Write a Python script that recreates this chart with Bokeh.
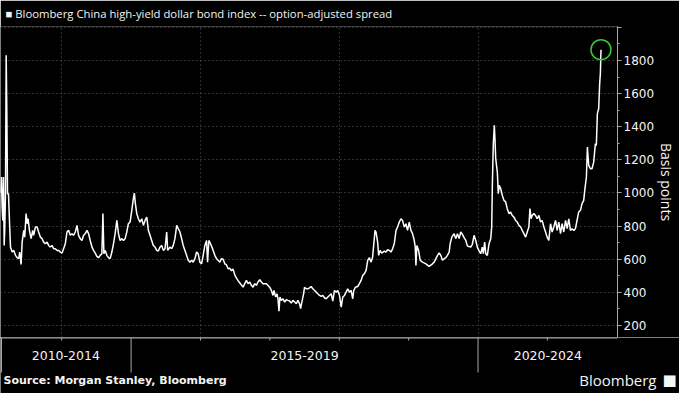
from bokeh.plotting import figure
from bokeh.models import Range1d, FixedTicker, ColumnDataSource
from bokeh.layouts import column
from bokeh.embed import file_html
from bokeh.resources import INLINE
from bokeh.core.properties import value

# ---------------- data ----------------
years = [
    2013.118, 2013.132, 2013.142, 2013.151, 2013.161, 2013.171, 2013.180, 2013.190, 2013.200, 2013.209,
    2013.219, 2013.233, 2013.247, 2013.262, 2013.286, 2013.309, 2013.334, 2013.358, 2013.381, 2013.395,
    2013.415, 2013.430, 2013.453, 2013.467, 2013.487, 2013.502, 2013.516, 2013.535, 2013.559, 2013.582,
    2013.596, 2013.621, 2013.645, 2013.668, 2013.693, 2013.717, 2013.740, 2013.765, 2013.789, 2013.812,
    2013.836, 2013.861, 2013.884, 2013.908, 2013.933, 2013.956, 2013.980, 2014.005, 2014.027, 2014.052,
    2014.076, 2014.099, 2014.124, 2014.148, 2014.171, 2014.196, 2014.220, 2014.243, 2014.267, 2014.292,
    2014.315, 2014.339, 2014.364, 2014.387, 2014.411, 2014.436, 2014.459, 2014.483, 2014.507, 2014.530,
    2014.555, 2014.579, 2014.594, 2014.608, 2014.627, 2014.651, 2014.674, 2014.698, 2014.723, 2014.746,
    2014.770, 2014.795, 2014.818, 2014.842, 2014.867, 2014.890, 2014.914, 2014.938, 2014.961, 2014.986,
    2015.010, 2015.033, 2015.047, 2015.062, 2015.082, 2015.105, 2015.129, 2015.154, 2015.177, 2015.201,
    2015.226, 2015.249, 2015.273, 2015.297, 2015.320, 2015.345, 2015.369, 2015.392, 2015.417, 2015.441,
    2015.464, 2015.489, 2015.513, 2015.527, 2015.560, 2015.585, 2015.608, 2015.632, 2015.657, 2015.680,
    2015.704, 2015.728, 2015.751, 2015.776, 2015.800, 2015.823, 2015.848, 2015.872, 2015.895, 2015.920,
    2015.944, 2015.967, 2015.991, 2016.016, 2016.039, 2016.063, 2016.088, 2016.102, 2016.121, 2016.145,
    2016.183, 2016.207, 2016.231, 2016.254, 2016.279, 2016.303, 2016.326, 2016.351, 2016.375, 2016.398,
    2016.422, 2016.447, 2016.470, 2016.494, 2016.519, 2016.542, 2016.576, 2016.614, 2016.638, 2016.662,
    2016.686, 2016.710, 2016.734, 2016.757, 2016.782, 2016.806, 2016.829, 2016.854, 2016.878, 2016.901,
    2016.950, 2016.997, 2017.022, 2017.045, 2017.059, 2017.084, 2017.102, 2017.117, 2017.131, 2017.145,
    2017.165, 2017.189, 2017.213, 2017.237, 2017.260, 2017.285, 2017.309, 2017.332, 2017.357, 2017.381,
    2017.404, 2017.428, 2017.443, 2017.461, 2017.486, 2017.500, 2017.524, 2017.547, 2017.572, 2017.596,
    2017.619, 2017.644, 2017.668, 2017.691, 2017.716, 2017.740, 2017.763, 2017.787, 2017.812, 2017.835,
    2017.859, 2017.884, 2017.907, 2017.931, 2017.956, 2017.979, 2018.004, 2018.028, 2018.051, 2018.075,
    2018.099, 2018.122, 2018.147, 2018.171, 2018.194, 2018.209, 2018.233, 2018.266, 2018.290, 2018.315,
    2018.338, 2018.362, 2018.387, 2018.410, 2018.434, 2018.459, 2018.481, 2018.496, 2018.516, 2018.530,
    2018.553, 2018.568, 2018.588, 2018.611, 2018.650, 2018.674, 2018.697, 2018.721, 2018.746, 2018.769,
    2018.793, 2018.818, 2018.841, 2018.865, 2018.889, 2018.912, 2018.937, 2018.961, 2018.984, 2019.009,
    2019.033, 2019.056, 2019.081, 2019.095, 2019.105, 2019.119, 2019.143, 2019.167, 2019.200, 2019.249,
    2019.296, 2019.344, 2019.368, 2019.416, 2019.440, 2019.464, 2019.487, 2019.512, 2019.536, 2019.559,
    2019.584, 2019.598, 2019.622, 2019.655, 2019.680, 2019.703, 2019.727, 2019.751, 2019.775, 2019.799,
    2019.824, 2019.847, 2019.871, 2019.895, 2019.918, 2019.943, 2019.967, 2019.990, 2020.015, 2020.039,
    2020.062, 2020.076, 2020.096, 2020.111, 2020.134, 2020.158, 2020.183, 2020.197, 2020.206, 2020.220,
    2020.235, 2020.245, 2020.255, 2020.278, 2020.292, 2020.306, 2020.327, 2020.350, 2020.374, 2020.398,
    2020.421, 2020.446, 2020.470, 2020.493, 2020.517, 2020.542, 2020.565, 2020.589, 2020.614, 2020.637,
    2020.661, 2020.686, 2020.709, 2020.733, 2020.748, 2020.766, 2020.780, 2020.805, 2020.829, 2020.852,
    2020.877, 2020.901, 2020.924, 2020.949, 2020.973, 2020.996, 2021.020, 2021.045, 2021.068, 2021.092,
    2021.117, 2021.140, 2021.164, 2021.189, 2021.212, 2021.236, 2021.261, 2021.284, 2021.308, 2021.332,
    2021.355, 2021.380, 2021.404, 2021.427, 2021.451, 2021.476, 2021.499, 2021.523, 2021.538, 2021.562,
    2021.576, 2021.595, 2021.619, 2021.642, 2021.667, 2021.691, 2021.705, 2021.720, 2021.739, 2021.753,
    2021.763, 2021.772,
]
spread = [
    1000, 1096, 915, 834, 1096, 683, 794, 995, 1831, 1499,
    995, 995, 834, 673, 643, 653, 623, 609, 603, 643,
    568, 703, 774, 733, 875, 814, 844, 774, 724, 774,
    744, 794, 794, 764, 733, 724, 703, 693, 703, 683,
    673, 683, 663, 663, 653, 653, 643, 637, 663, 693,
    764, 774, 744, 754, 744, 764, 804, 744, 724, 713,
    744, 754, 774, 754, 713, 673, 653, 637, 617, 609,
    623, 633, 875, 633, 653, 623, 609, 603, 643, 693,
    754, 834, 754, 713, 724, 713, 724, 764, 814, 824,
    895, 965, 999, 935, 875, 844, 824, 844, 804, 834,
    854, 774, 744, 713, 683, 673, 653, 649, 673, 683,
    653, 663, 764, 653, 673, 663, 683, 724, 804, 784,
    764, 724, 683, 653, 623, 593, 582, 593, 582, 603,
    643, 633, 582, 572, 623, 683, 713, 582, 713, 693,
    653, 623, 603, 593, 582, 603, 600, 572, 565, 542,
    545, 530, 540, 505, 485, 470, 452, 431, 452, 472,
    452, 462, 442, 431, 452, 442, 462, 476, 462, 452,
    452, 431, 411, 381, 411, 371, 391, 361, 286, 371,
    351, 361, 341, 355, 351, 347, 335, 351, 341, 331,
    351, 331, 301, 341, 391, 431, 421, 421, 427, 435,
    421, 411, 401, 391, 381, 375, 381, 367, 361, 371,
    381, 391, 347, 411, 401, 411, 381, 311, 371, 381,
    401, 421, 401, 411, 361, 411, 431, 435, 452, 472,
    502, 512, 532, 593, 609, 582, 613, 683, 774, 764,
    703, 623, 653, 637, 649, 643, 657, 653, 643, 663,
    693, 774, 794, 824, 844, 834, 794, 814, 774, 824,
    774, 754, 713, 673, 562, 683, 653, 593, 582, 572,
    556, 572, 582, 623, 637, 623, 593, 603, 609, 623,
    643, 693, 733, 754, 724, 754, 724, 764, 750, 730,
    713, 680, 676, 673, 690, 744, 713, 673, 650, 633,
    673, 633, 703, 633, 623, 693, 724, 794, 1035, 1297,
    1408, 1317, 1207, 1126, 995, 1046, 1025, 985, 955, 945,
    905, 875, 885, 864, 854, 834, 824, 804, 794, 774,
    754, 733, 764, 794, 905, 844, 864, 875, 864, 844,
    864, 824, 834, 794, 764, 733, 713, 814, 764, 794,
    834, 774, 824, 754, 814, 764, 834, 784, 844, 774,
    784, 774, 784, 834, 885, 895, 935, 955, 1015, 1096,
    1277, 1166, 1146, 1146, 1186, 1297, 1287, 1479, 1510, 1660,
    1720, 1865,
]

title_text = "\u25a0 Bloomberg China high-yield dollar bond index -- option-adjusted spread"
y_axis_title = "Basis points"
y_ticks = [200, 400, 600, 800, 1000, 1200, 1400, 1600, 1800, 2000]
y_minor = [300, 500, 700, 900, 1100, 1300, 1500, 1700, 1900]
grid_years = [2014, 2016, 2018, 2020]
year_ticks = [2014, 2016, 2017, 2018, 2019, 2021]
period_labels = ["2010-2014", "2015-2019", "2020-2024"]
period_starts = [2010, 2015, 2020]
period_ends = [2015, 2020, 2025]
source_text = "Source: Morgan Stanley, Bloomberg"
brand_text = "Bloomberg"

# ---------------- layout ----------------
X0, X1 = 2013.118, 2022.01
Y0, Y1 = 127, 2005
W = 679          # full width
FW = 617         # plot frame width
FH = 311         # plot frame height
TOP = 26
BH = 56          # footer strip height
BG = "#000000"
TXT = "#f4f4f4"
GRID = "#5e5e5e"
AXIS = "#a8a8a8"

p = figure(frame_width=FW, frame_height=FH, x_range=Range1d(X0, X1), y_range=Range1d(Y0, Y1),
           y_axis_location="right", output_backend="svg", toolbar_location=None,
           min_border_left=0, min_border_right=0, min_border_top=TOP, min_border_bottom=0)
p.frame_align = False
p.background_fill_color = BG
p.border_fill_color = BG
p.outline_line_color = None

p.title.text = title_text
p.title.text_color = TXT
p.title.text_font = "Open Sans"
p.title.text_font_size = "11.3px"
p.title.text_font_style = "normal"
p.title.standoff = 8
p.title.offset = 5
p.title.vertical_align = "top"

p.xaxis.visible = False
p.xgrid.ticker = FixedTicker(ticks=grid_years)
p.xgrid.grid_line_color = GRID
p.xgrid.grid_line_dash = "1 3"

yax = p.yaxis[0]
yax.ticker = FixedTicker(ticks=y_ticks, minor_ticks=y_minor)
yax.major_label_overrides = {2000: ""}
yax.axis_line_color = AXIS
yax.major_tick_line_color = AXIS
yax.minor_tick_line_color = AXIS
yax.major_tick_out = 4
yax.major_tick_in = 0
yax.minor_tick_out = 2
yax.minor_tick_in = 0
yax.major_label_text_color = TXT
yax.major_label_text_font = "DejaVu Sans"
yax.major_label_text_font_size = "12px"
yax.major_label_standoff = 2
yax.axis_label = y_axis_title
yax.axis_label_text_color = TXT
yax.axis_label_text_font = "Open Sans"
yax.axis_label_text_font_size = "14px"
yax.axis_label_text_font_style = "normal"
yax.axis_label_standoff = 0

p.ygrid.ticker = FixedTicker(ticks=y_ticks)
p.ygrid.grid_line_color = GRID
p.ygrid.grid_line_dash = "1 3"

src = ColumnDataSource(dict(x=years, y=spread))
p.line("x", "y", source=src, line_color="white", line_width=1.5)
p.scatter([years[-1]], [spread[-1]], marker="circle", size=20, fill_color=None,
          line_color="#36c936", line_width=1.5)

# ---------------- footer strip: grouped x axis + source ----------------
span = (X1 - X0) * W / FW
def px(v):
    return X0 + v * (X1 - X0) / FW

b = figure(width=W, height=BH, x_range=Range1d(X0, X0 + span), y_range=Range1d(0, BH),
           x_axis_location=None, y_axis_location=None, output_backend="svg",
           toolbar_location=None, min_border=0)
b.frame_align = False
b.background_fill_color = BG
b.border_fill_color = BG
b.outline_line_color = None
b.xgrid.visible = False
b.ygrid.visible = False

b.segment(x0=[X0], y0=[BH - 0.5], x1=[X1], y1=[BH - 0.5], line_color=AXIS, line_width=1)
b.segment(x0=year_ticks, y0=[BH - 0.5] * len(year_ticks), x1=year_ticks,
          y1=[BH - 3] * len(year_ticks), line_color=AXIS, line_width=1)
seps = [px(1)] + period_starts[1:]
b.segment(x0=seps, y0=[BH] * len(seps), x1=seps, y1=[BH - 35] * len(seps),
          line_color=AXIS, line_width=1)

centers = [(max(s, X0) + min(e, X1)) / 2 for s, e in zip(period_starts, period_ends)]
b.text(x=centers, y=[BH - 18] * 3, text=period_labels, text_color=TXT,
       text_font=value("DejaVu Sans"), text_font_size="12.5px",
       text_align="center", text_baseline="middle")

b.text(x=[px(3)], y=[13], text=[source_text], text_color=TXT,
       text_font=value("DejaVu Sans"), text_font_size="11px", text_font_style="bold",
       text_align="left", text_baseline="middle")
b.text(x=[px(656)], y=[14], text=[brand_text], text_color=TXT,
       text_font=value("Open Sans"), text_font_size="15px",
       text_align="right", text_baseline="middle")
b.text(x=[px(662)], y=[14], text=["\u25a0"], text_color=TXT,
       text_font=value("DejaVu Sans"), text_font_size="15px",
       text_align="left", text_baseline="middle")

layout = column(p, b, spacing=0)
open("out.html", "w").write(file_html(layout, INLINE))
